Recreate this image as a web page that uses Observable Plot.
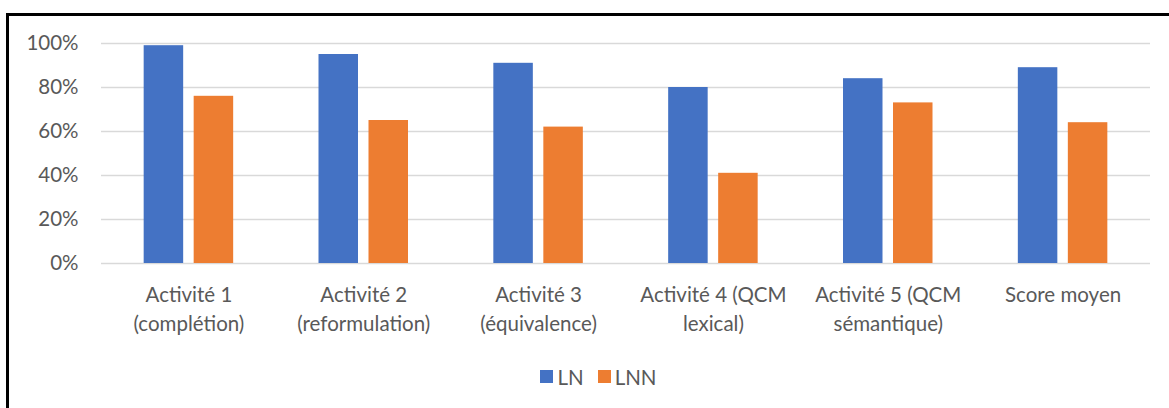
<!DOCTYPE html>
<html>
<head>
<meta charset="utf-8">
<script src="https://cdn.jsdelivr.net/npm/d3@7"></script>
<script src="https://cdn.jsdelivr.net/npm/@observablehq/plot@0.6"></script>
<style>
  html, body { margin: 0; padding: 0; background: #fff; overflow: hidden; }
  #wrap { position: relative; width: 1169px; height: 408px; }
  #frame { position: absolute; left: 6px; top: 13px; width: 1200px; height: 500px;
           border-left: 3.5px solid #000; border-top: 3.5px solid #000; box-sizing: border-box; }
  #chart { position: absolute; left: 0; top: 0; }
  #legend { position: absolute; left: 14px; width: 1169px; top: 363px; text-align: center;
            font-family: Lato, sans-serif; font-size: 20.5px; color: #595959; }
  #legend span.item { display: inline-flex; align-items: center; margin: 0 7px; }
  #legend span.sw { display: inline-block; width: 13px; height: 13px; margin-right: 4px; }
</style>
</head>
<body>
<div id="wrap">
  <div id="frame"></div>
  <div id="chart"></div>
  <div id="legend"></div>
</div>
<script>
const categories = [
  "Activité 1\n(complétion)",
  "Activité 2\n(reformulation)",
  "Activité 3\n(équivalence)",
  "Activité 4 (QCM\nlexical)",
  "Activité 5 (QCM\nsémantique)",
  "Score moyen"
];
const seriesNames = ["LN", "LNN"];
const valuesLN  = [0.99, 0.95, 0.91, 0.80, 0.84, 0.89];
const valuesLNN = [0.76, 0.65, 0.62, 0.41, 0.73, 0.64];
const colors = ["#4472C4", "#ED7D31"];
const yTicks = [0, 0.2, 0.4, 0.6, 0.8, 1.0];

const data = [];
categories.forEach((c, i) => {
  data.push({category: c, series: "LN", value: valuesLN[i]});
  data.push({category: c, series: "LNN", value: valuesLNN[i]});
});

const W = 1169, H = 345;
const mL = 101, mR = 19, mT = 43, mB = 82;
const step = (W - mL - mR) / categories.length;
const barW = 39.5, gap = 10.5;
const groupW = 2 * barW + gap;
const outer = (step - groupW) / 2;

const font = "Lato, sans-serif";

const chart = Plot.plot({
  width: W,
  height: H,
  marginLeft: mL,
  marginRight: mR,
  marginTop: mT,
  marginBottom: mB,
  style: {fontFamily: font, fontSize: "20.5px", color: "#595959", background: "transparent"},
  x: {domain: categories, padding: 0, round: false, label: null},
  y: {domain: [0, 1], label: null},
  color: {domain: seriesNames, range: colors},
  marks: [
    Plot.ruleY(yTicks, {stroke: "#d9d9d9", strokeWidth: 1.5}),
    Plot.barY(data.filter(d => d.series === "LN"), {
      x: "category", y: "value", fill: "series",
      insetLeft: outer, insetRight: outer + barW + gap
    }),
    Plot.barY(data.filter(d => d.series === "LNN"), {
      x: "category", y: "value", fill: "series",
      insetLeft: outer + barW + gap, insetRight: outer
    }),
    Plot.axisY({ticks: yTicks, tickFormat: d3.format(".0%"), tickSize: 0, tickPadding: 23,
                fill: "#595959", fontSize: 20.5, label: null}),
    Plot.axisX({tickSize: 0, tickPadding: 18, fill: "#595959", fontSize: 20.5,
                lineHeight: 1.42, label: null})
  ]
});
document.getElementById("chart").appendChild(chart);

const legend = document.getElementById("legend");
seriesNames.forEach((s, i) => {
  const item = document.createElement("span");
  item.className = "item";
  const sw = document.createElement("span");
  sw.className = "sw";
  sw.style.background = colors[i];
  item.appendChild(sw);
  item.appendChild(document.createTextNode(s));
  legend.appendChild(item);
});
</script>
</body>
</html>
